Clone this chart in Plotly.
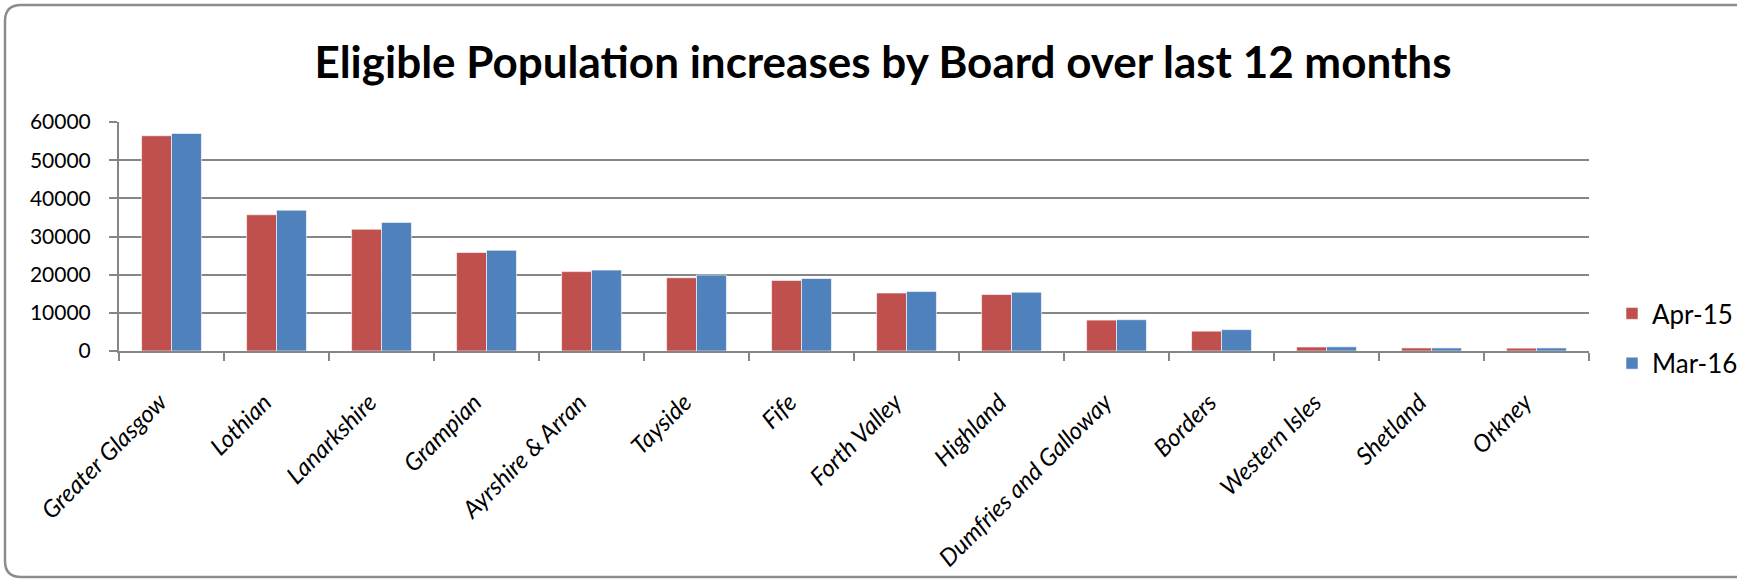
import plotly.graph_objects as go

boards = ["Greater Glasgow", "Lothian", "Lanarkshire", "Grampian", "Ayrshire & Arran",
          "Tayside", "Fife", "Forth Valley", "Highland", "Dumfries and Galloway",
          "Borders", "Western Isles", "Shetland", "Orkney"]
apr15 = [56400, 35700, 31900, 25800, 20800, 19200, 18500, 15200, 14800, 8100, 5200, 1050, 800, 750]
mar16 = [57000, 36900, 33700, 26400, 21200, 19900, 19000, 15600, 15400, 8200, 5600, 1100, 800, 800]
y_ticks = [0, 10000, 20000, 30000, 40000, 50000, 60000]

W, H = 1737, 581
L, R, T, B = 119, 1589, 122, 351
FONT = "Lato"

fig = go.Figure()
fig.add_trace(go.Bar(name="Apr-15", x=boards, y=apr15, marker_color="#C0504D",
                     marker_line=dict(color="rgba(255,255,255,0.6)", width=1),
                     legendgroup="a"))
fig.add_trace(go.Bar(name="Mar-16", x=boards, y=mar16, marker_color="#4F81BD",
                     marker_line=dict(color="rgba(255,255,255,0.6)", width=1),
                     legendgroup="b"))

pw, ph = R - L, B - T
def px(x):
    return (x - L) / pw
def py(y):
    return (B - y) / ph

# rounded outer border
x0, x1, y0, y1, r = 5, 1760, 5, 577, 16
path = (f"M {px(x0+r)},{py(y0)} L {px(x1)},{py(y0)} M {px(x1)},{py(y1)} L {px(x0+r)},{py(y1)} "
        f"Q {px(x0)},{py(y1)} {px(x0)},{py(y1-r)} L {px(x0)},{py(y0+r)} "
        f"Q {px(x0)},{py(y0)} {px(x0+r)},{py(y0)}")
fig.add_shape(type="path", path=path, xref="paper", yref="paper",
              line=dict(color="#8C8C8C", width=2.5), layer="below")

fig.update_layout(
    width=W, height=H,
    margin=dict(l=L, r=W - R, t=T, b=H - B, autoexpand=False),
    paper_bgcolor="white", plot_bgcolor="white",
    barmode="group", bargap=0.43, bargroupgap=0,
    title=dict(text="<b>Eligible Population increases by Board over last 12 months</b>",
               x=883 / W, xanchor="center", y=1 - 63 / H, yanchor="middle",
               font=dict(family=FONT, size=44, color="black")),
    font=dict(family=FONT, color="black"),
    legend=dict(x=px(1612), xanchor="left", y=py(290), yanchor="top",
                font=dict(family=FONT, size=26, color="black"),
                tracegroupgap=13, traceorder="grouped", bgcolor="rgba(0,0,0,0)"),
    xaxis=dict(tickangle=-45, tickfont=dict(family=FONT, size=24, style="italic", color="black"),
               tickvals=boards, ticktext=[b + "\u00a0\u00a0\u00a0" for b in boards],
               ticklabelstandoff=14,
               showline=True, linecolor="#868686", linewidth=2,
               ticks="outside", tickson="boundaries", ticklen=8, tickcolor="#868686", tickwidth=2,
               showgrid=False),
    yaxis=dict(range=[0, 60000], tickvals=y_ticks, ticktext=[str(v) for v in y_ticks],
               tickfont=dict(family=FONT, size=21, color="black"),
               ticklabelstandoff=14,
               showline=True, linecolor="#868686", linewidth=2,
               ticks="outside", ticklen=8, tickcolor="#868686", tickwidth=2,
               gridcolor="#868686", gridwidth=2, zeroline=False),
)

fig.write_html("out.html", config={"displayModeBar": False},
               post_script="document.body.style.margin='0';document.body.style.overflow='hidden';")
